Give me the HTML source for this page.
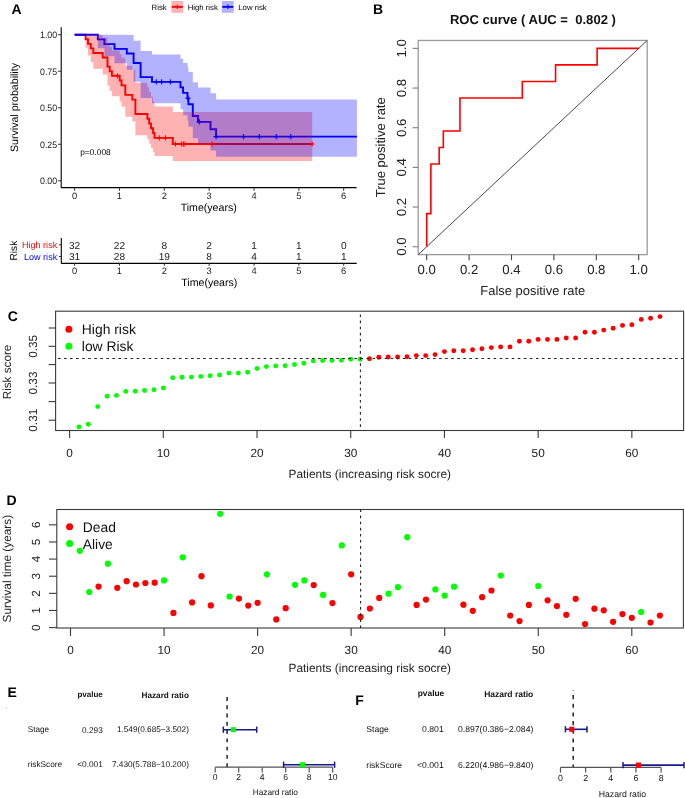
<!DOCTYPE html>
<html><head><meta charset="utf-8"><style>
html,body{margin:0;padding:0;background:#fff;}
body{width:685px;height:798px;overflow:hidden;}
svg{display:block;font-family:"Liberation Sans", sans-serif;filter:blur(0.3px);text-rendering:geometricPrecision;}
</style></head><body>
<svg width="685" height="798" viewBox="0 0 685 798">
<rect width="685" height="798" fill="#fff"/>
<path d="M74.6,34.70 H85.60 V39.27 H88.00 V43.83 H90.80 V48.40 H93.30 V52.96 H102.70 V57.53 H107.50 V66.66 H109.70 V71.23 H111.90 V75.79 H119.70 V80.56 H121.50 V85.34 H125.30 V94.88 H132.30 V99.66 H135.40 V113.98 H147.40 V118.75 H149.20 V123.52 H151.00 V128.30 H153.10 V133.07 H154.50 V137.84 H172.80 V143.98 H312.20" fill="none" stroke="#ff0000" stroke-width="1.9"/>
<path d="M74.6,34.70 H97.80 V39.41 H104.40 V44.13 H114.50 V48.84 H126.80 V53.55 H133.60 V62.98 H140.60 V77.12 H152.00 V81.83 H180.50 V87.33 H183.10 V92.83 H187.50 V98.32 H188.40 V104.22 H192.80 V116.00 H198.00 V121.89 H210.50 V129.25 H216.10 V136.62 H356.90" fill="none" stroke="#0000ff" stroke-width="1.9"/>
<path d="M74.6,34.70 H85.60 V34.70 H88.00 V34.70 H90.80 V34.70 H93.30 V35.08 H102.70 V37.71 H107.50 V43.69 H109.70 V46.96 H111.90 V50.38 H119.70 V53.99 H121.50 V57.75 H125.30 V65.65 H132.30 V69.77 H135.40 V82.78 H147.40 V87.33 H149.20 V91.98 H151.00 V96.73 H153.10 V101.59 H154.50 V106.57 H172.80 V112.01 H312.20 V161.09 H172.80 V155.94 H154.50 V152.04 H153.10 V148.01 H151.00 V143.86 H149.20 V139.61 H147.40 V135.24 H135.40 V121.50 H132.30 V116.70 H125.30 V106.74 H121.50 V101.57 H119.70 V96.25 H111.90 V91.09 H109.70 V85.78 H107.50 V74.60 H102.70 V68.65 H93.30 V62.36 H90.80 V55.55 H88.00 V47.80 H85.60 V34.70 Z" fill="#ff0000" fill-opacity="0.3"/>
<path d="M74.6,34.70 H97.80 V34.70 H104.40 V34.70 H114.50 V34.70 H126.80 V35.09 H133.60 V40.80 H140.60 V50.93 H152.00 V54.62 H180.50 V58.66 H183.10 V62.91 H187.50 V67.35 H188.40 V72.07 H192.80 V82.16 H198.00 V87.49 H210.50 V93.29 H216.10 V99.52 H356.90 V156.78 H216.10 V150.43 H210.50 V143.60 H198.00 V138.23 H192.80 V126.86 H188.40 V120.84 H187.50 V115.15 H183.10 V109.27 H180.50 V103.17 H152.00 V98.02 H140.60 V81.64 H133.60 V69.68 H126.80 V63.20 H114.50 V56.19 H104.40 V48.21 H97.80 V34.70 Z" fill="#0000ff" fill-opacity="0.3"/>
<path d="M114.90,75.79 H120.10 M117.50,73.19 V78.39" stroke="#ff0000" stroke-width="1.1"/>
<path d="M156.70,137.84 H161.90 M159.30,135.24 V140.44" stroke="#ff0000" stroke-width="1.1"/>
<path d="M162.80,137.84 H168.00 M165.40,135.24 V140.44" stroke="#ff0000" stroke-width="1.1"/>
<path d="M172.90,143.98 H178.10 M175.50,141.38 V146.58" stroke="#ff0000" stroke-width="1.1"/>
<path d="M179.00,143.98 H184.20 M181.60,141.38 V146.58" stroke="#ff0000" stroke-width="1.1"/>
<path d="M180.80,143.98 H186.00 M183.40,141.38 V146.58" stroke="#ff0000" stroke-width="1.1"/>
<path d="M182.50,143.98 H187.70 M185.10,141.38 V146.58" stroke="#ff0000" stroke-width="1.1"/>
<path d="M209.50,143.98 H214.70 M212.10,141.38 V146.58" stroke="#ff0000" stroke-width="1.1"/>
<path d="M309.60,143.98 H314.80 M312.20,141.38 V146.58" stroke="#ff0000" stroke-width="1.1"/>
<path d="M153.70,81.83 H158.90 M156.30,79.23 V84.43" stroke="#0000ff" stroke-width="1.1"/>
<path d="M159.00,81.83 H164.20 M161.60,79.23 V84.43" stroke="#0000ff" stroke-width="1.1"/>
<path d="M167.80,81.83 H173.00 M170.40,79.23 V84.43" stroke="#0000ff" stroke-width="1.1"/>
<path d="M185.40,98.32 H190.60 M188.00,95.72 V100.92" stroke="#0000ff" stroke-width="1.1"/>
<path d="M196.70,121.89 H201.90 M199.30,119.29 V124.49" stroke="#0000ff" stroke-width="1.1"/>
<path d="M213.50,136.62 H218.70 M216.10,134.02 V139.22" stroke="#0000ff" stroke-width="1.1"/>
<path d="M240.90,136.62 H246.10 M243.50,134.02 V139.22" stroke="#0000ff" stroke-width="1.1"/>
<path d="M256.70,136.62 H261.90 M259.30,134.02 V139.22" stroke="#0000ff" stroke-width="1.1"/>
<path d="M273.70,136.62 H278.90 M276.30,134.02 V139.22" stroke="#0000ff" stroke-width="1.1"/>
<path d="M288.20,136.62 H293.40 M290.80,134.02 V139.22" stroke="#0000ff" stroke-width="1.1"/>
<line x1="61.20" y1="27.20" x2="61.20" y2="188.00" stroke="#000" stroke-width="1.1"/>
<line x1="61.20" y1="187.60" x2="356.70" y2="187.60" stroke="#000" stroke-width="1.1"/>
<line x1="58.00" y1="180.80" x2="61.20" y2="180.80" stroke="#333" stroke-width="1"/>
<text x="57.20" y="184.10" font-size="9.3" text-anchor="end" font-weight="normal" fill="#222" transform="translate(57.20 184.10) rotate(0) scale(0.95 1.0) translate(-57.20 -184.10)">0.00</text>
<line x1="58.00" y1="144.28" x2="61.20" y2="144.28" stroke="#333" stroke-width="1"/>
<text x="57.20" y="147.58" font-size="9.3" text-anchor="end" font-weight="normal" fill="#222" transform="translate(57.20 147.58) rotate(0) scale(0.95 1.0) translate(-57.20 -147.58)">0.25</text>
<line x1="58.00" y1="107.75" x2="61.20" y2="107.75" stroke="#333" stroke-width="1"/>
<text x="57.20" y="111.05" font-size="9.3" text-anchor="end" font-weight="normal" fill="#222" transform="translate(57.20 111.05) rotate(0) scale(0.95 1.0) translate(-57.20 -111.05)">0.50</text>
<line x1="58.00" y1="71.23" x2="61.20" y2="71.23" stroke="#333" stroke-width="1"/>
<text x="57.20" y="74.53" font-size="9.3" text-anchor="end" font-weight="normal" fill="#222" transform="translate(57.20 74.53) rotate(0) scale(0.95 1.0) translate(-57.20 -74.53)">0.75</text>
<line x1="58.00" y1="34.70" x2="61.20" y2="34.70" stroke="#333" stroke-width="1"/>
<text x="57.20" y="38.00" font-size="9.3" text-anchor="end" font-weight="normal" fill="#222" transform="translate(57.20 38.00) rotate(0) scale(0.95 1.0) translate(-57.20 -38.00)">1.00</text>
<line x1="74.60" y1="187.60" x2="74.60" y2="190.80" stroke="#333" stroke-width="1"/>
<text x="74.60" y="198.80" font-size="9.3" text-anchor="middle" font-weight="normal" fill="#222">0</text>
<line x1="119.45" y1="187.60" x2="119.45" y2="190.80" stroke="#333" stroke-width="1"/>
<text x="119.45" y="198.80" font-size="9.3" text-anchor="middle" font-weight="normal" fill="#222">1</text>
<line x1="164.30" y1="187.60" x2="164.30" y2="190.80" stroke="#333" stroke-width="1"/>
<text x="164.30" y="198.80" font-size="9.3" text-anchor="middle" font-weight="normal" fill="#222">2</text>
<line x1="209.15" y1="187.60" x2="209.15" y2="190.80" stroke="#333" stroke-width="1"/>
<text x="209.15" y="198.80" font-size="9.3" text-anchor="middle" font-weight="normal" fill="#222">3</text>
<line x1="254.00" y1="187.60" x2="254.00" y2="190.80" stroke="#333" stroke-width="1"/>
<text x="254.00" y="198.80" font-size="9.3" text-anchor="middle" font-weight="normal" fill="#222">4</text>
<line x1="298.85" y1="187.60" x2="298.85" y2="190.80" stroke="#333" stroke-width="1"/>
<text x="298.85" y="198.80" font-size="9.3" text-anchor="middle" font-weight="normal" fill="#222">5</text>
<line x1="343.70" y1="187.60" x2="343.70" y2="190.80" stroke="#333" stroke-width="1"/>
<text x="343.70" y="198.80" font-size="9.3" text-anchor="middle" font-weight="normal" fill="#222">6</text>
<text x="208.70" y="211.00" font-size="10.6" text-anchor="middle" font-weight="normal" fill="#000">Time(years)</text>
<text x="17.80" y="107.50" font-size="10.6" text-anchor="middle" font-weight="normal" fill="#000" transform="rotate(-90 17.8 107.5)">Survival probability</text>
<text x="80.20" y="155.00" font-size="8.4" text-anchor="start" font-weight="normal" fill="#000">p=0.008</text>
<text x="11.50" y="14.10" font-size="14.0" text-anchor="start" font-weight="bold" fill="#000">A</text>
<text x="151.60" y="10.30" font-size="7.8" text-anchor="start" font-weight="normal" fill="#000">Risk</text>
<rect x="171.4" y="1" width="11.8" height="11.8" fill="#ff0000" fill-opacity="0.3"/>
<path d="M171.8,6.85 H182.8" stroke="#ff0000" stroke-width="1.9"/><path d="M177.3,4.6 V9.1" stroke="#ff0000" stroke-width="1.1"/>
<text x="187.70" y="10.30" font-size="7.75" text-anchor="start" font-weight="normal" fill="#000">High risk</text>
<rect x="221.9" y="1" width="11.8" height="11.8" fill="#0000ff" fill-opacity="0.3"/>
<path d="M222.3,6.85 H233.3" stroke="#0000ff" stroke-width="1.9"/><path d="M227.8,4.6 V9.1" stroke="#0000ff" stroke-width="1.1"/>
<text x="238.30" y="10.30" font-size="7.75" text-anchor="start" font-weight="normal" fill="#000">Low risk</text>
<line x1="61.30" y1="238.10" x2="61.30" y2="263.60" stroke="#000" stroke-width="1.1"/>
<line x1="61.30" y1="263.40" x2="356.70" y2="263.40" stroke="#000" stroke-width="1.1"/>
<line x1="59.00" y1="244.80" x2="61.30" y2="244.80" stroke="#333" stroke-width="1"/>
<line x1="59.00" y1="256.50" x2="61.30" y2="256.50" stroke="#333" stroke-width="1"/>
<text x="57.20" y="248.20" font-size="9.05" text-anchor="end" font-weight="normal" fill="#ff0000">High risk</text>
<text x="57.20" y="259.90" font-size="9.05" text-anchor="end" font-weight="normal" fill="#0000ff">Low risk</text>
<text x="17.30" y="250.60" font-size="10.1" text-anchor="middle" font-weight="normal" fill="#000" transform="rotate(-90 17.3 250.6)">Risk</text>
<text x="74.60" y="248.60" font-size="10.1" text-anchor="middle" font-weight="normal" fill="#222">32</text>
<text x="74.60" y="259.60" font-size="10.1" text-anchor="middle" font-weight="normal" fill="#222">31</text>
<line x1="74.60" y1="263.40" x2="74.60" y2="265.80" stroke="#333" stroke-width="1"/>
<text x="74.60" y="274.30" font-size="9.3" text-anchor="middle" font-weight="normal" fill="#222">0</text>
<text x="119.45" y="248.60" font-size="10.1" text-anchor="middle" font-weight="normal" fill="#222">22</text>
<text x="119.45" y="259.60" font-size="10.1" text-anchor="middle" font-weight="normal" fill="#222">28</text>
<line x1="119.45" y1="263.40" x2="119.45" y2="265.80" stroke="#333" stroke-width="1"/>
<text x="119.45" y="274.30" font-size="9.3" text-anchor="middle" font-weight="normal" fill="#222">1</text>
<text x="164.30" y="248.60" font-size="10.1" text-anchor="middle" font-weight="normal" fill="#222">8</text>
<text x="164.30" y="259.60" font-size="10.1" text-anchor="middle" font-weight="normal" fill="#222">19</text>
<line x1="164.30" y1="263.40" x2="164.30" y2="265.80" stroke="#333" stroke-width="1"/>
<text x="164.30" y="274.30" font-size="9.3" text-anchor="middle" font-weight="normal" fill="#222">2</text>
<text x="209.15" y="248.60" font-size="10.1" text-anchor="middle" font-weight="normal" fill="#222">2</text>
<text x="209.15" y="259.60" font-size="10.1" text-anchor="middle" font-weight="normal" fill="#222">8</text>
<line x1="209.15" y1="263.40" x2="209.15" y2="265.80" stroke="#333" stroke-width="1"/>
<text x="209.15" y="274.30" font-size="9.3" text-anchor="middle" font-weight="normal" fill="#222">3</text>
<text x="254.00" y="248.60" font-size="10.1" text-anchor="middle" font-weight="normal" fill="#222">1</text>
<text x="254.00" y="259.60" font-size="10.1" text-anchor="middle" font-weight="normal" fill="#222">4</text>
<line x1="254.00" y1="263.40" x2="254.00" y2="265.80" stroke="#333" stroke-width="1"/>
<text x="254.00" y="274.30" font-size="9.3" text-anchor="middle" font-weight="normal" fill="#222">4</text>
<text x="298.85" y="248.60" font-size="10.1" text-anchor="middle" font-weight="normal" fill="#222">1</text>
<text x="298.85" y="259.60" font-size="10.1" text-anchor="middle" font-weight="normal" fill="#222">1</text>
<line x1="298.85" y1="263.40" x2="298.85" y2="265.80" stroke="#333" stroke-width="1"/>
<text x="298.85" y="274.30" font-size="9.3" text-anchor="middle" font-weight="normal" fill="#222">5</text>
<text x="343.70" y="248.60" font-size="10.1" text-anchor="middle" font-weight="normal" fill="#222">0</text>
<text x="343.70" y="259.60" font-size="10.1" text-anchor="middle" font-weight="normal" fill="#222">1</text>
<line x1="343.70" y1="263.40" x2="343.70" y2="265.80" stroke="#333" stroke-width="1"/>
<text x="343.70" y="274.30" font-size="9.3" text-anchor="middle" font-weight="normal" fill="#222">6</text>
<text x="209.30" y="286.00" font-size="10.6" text-anchor="middle" font-weight="normal" fill="#000">Time(years)</text>
<rect x="418.22" y="40.47" width="228.96" height="214.16" fill="none" stroke="#9a9a9a" stroke-width="1.3"/>
<line x1="418.22" y1="254.63" x2="647.18" y2="40.47" stroke="#333" stroke-width="0.9"/>
<path d="M426.70,246.70 L426.70,213.65 L430.86,213.65 L430.86,164.07 L439.17,164.07 L439.17,147.55 L443.33,147.55 L443.33,131.02 L459.95,131.02 L459.95,97.97 L522.31,97.97 L522.31,81.45 L555.56,81.45 L555.56,64.92 L597.13,64.92 L597.13,48.40 L638.70,48.40" fill="none" stroke="#ff0000" stroke-width="1.6"/>
<line x1="426.70" y1="254.63" x2="426.70" y2="260.23" stroke="#444" stroke-width="1.1"/>
<text x="426.70" y="274.20" font-size="13.2" text-anchor="middle" font-weight="normal" fill="#222">0.0</text>
<line x1="412.62" y1="246.70" x2="418.22" y2="246.70" stroke="#888" stroke-width="1.2"/>
<text x="406.50" y="246.70" font-size="13.2" text-anchor="middle" font-weight="normal" fill="#222" transform="rotate(-90 406.5 246.7)">0.0</text>
<line x1="469.10" y1="254.63" x2="469.10" y2="260.23" stroke="#444" stroke-width="1.1"/>
<text x="469.10" y="274.20" font-size="13.2" text-anchor="middle" font-weight="normal" fill="#222">0.2</text>
<line x1="412.62" y1="207.04" x2="418.22" y2="207.04" stroke="#888" stroke-width="1.2"/>
<text x="406.50" y="207.04" font-size="13.2" text-anchor="middle" font-weight="normal" fill="#222" transform="rotate(-90 406.5 207.04)">0.2</text>
<line x1="511.50" y1="254.63" x2="511.50" y2="260.23" stroke="#444" stroke-width="1.1"/>
<text x="511.50" y="274.20" font-size="13.2" text-anchor="middle" font-weight="normal" fill="#222">0.4</text>
<line x1="412.62" y1="167.38" x2="418.22" y2="167.38" stroke="#888" stroke-width="1.2"/>
<text x="406.50" y="167.38" font-size="13.2" text-anchor="middle" font-weight="normal" fill="#222" transform="rotate(-90 406.5 167.38)">0.4</text>
<line x1="553.90" y1="254.63" x2="553.90" y2="260.23" stroke="#444" stroke-width="1.1"/>
<text x="553.90" y="274.20" font-size="13.2" text-anchor="middle" font-weight="normal" fill="#222">0.6</text>
<line x1="412.62" y1="127.72" x2="418.22" y2="127.72" stroke="#888" stroke-width="1.2"/>
<text x="406.50" y="127.72" font-size="13.2" text-anchor="middle" font-weight="normal" fill="#222" transform="rotate(-90 406.5 127.71999999999997)">0.6</text>
<line x1="596.30" y1="254.63" x2="596.30" y2="260.23" stroke="#444" stroke-width="1.1"/>
<text x="596.30" y="274.20" font-size="13.2" text-anchor="middle" font-weight="normal" fill="#222">0.8</text>
<line x1="412.62" y1="88.06" x2="418.22" y2="88.06" stroke="#888" stroke-width="1.2"/>
<text x="406.50" y="88.06" font-size="13.2" text-anchor="middle" font-weight="normal" fill="#222" transform="rotate(-90 406.5 88.05999999999997)">0.8</text>
<line x1="638.70" y1="254.63" x2="638.70" y2="260.23" stroke="#444" stroke-width="1.1"/>
<text x="638.70" y="274.20" font-size="13.2" text-anchor="middle" font-weight="normal" fill="#222">1.0</text>
<line x1="412.62" y1="48.40" x2="418.22" y2="48.40" stroke="#888" stroke-width="1.2"/>
<text x="406.50" y="48.40" font-size="13.2" text-anchor="middle" font-weight="normal" fill="#222" transform="rotate(-90 406.5 48.39999999999998)">1.0</text>
<text x="532.80" y="295.40" font-size="12.95" text-anchor="middle" font-weight="normal" fill="#222">False positive rate</text>
<text x="384.50" y="147.25" font-size="13.0" text-anchor="middle" font-weight="normal" fill="#222" transform="rotate(-90 384.5 147.25)">True positive rate</text>
<text x="532.90" y="24.40" font-size="13.05" text-anchor="middle" font-weight="bold" fill="#111">ROC curve ( AUC =&#160; 0.802 )</text>
<text x="373.10" y="14.30" font-size="14.0" text-anchor="start" font-weight="bold" fill="#000">B</text>
<rect x="55.6" y="311.2" width="628.00" height="119.30" fill="none" stroke="#3a3a3a" stroke-width="1.1"/>
<circle cx="78.97" cy="426.90" r="2.45" fill="#00ff00"/>
<circle cx="88.34" cy="424.30" r="2.45" fill="#00ff00"/>
<circle cx="97.71" cy="406.60" r="2.45" fill="#00ff00"/>
<circle cx="107.08" cy="396.30" r="2.45" fill="#00ff00"/>
<circle cx="116.45" cy="395.40" r="2.45" fill="#00ff00"/>
<circle cx="125.83" cy="391.40" r="2.45" fill="#00ff00"/>
<circle cx="135.20" cy="391.20" r="2.45" fill="#00ff00"/>
<circle cx="144.57" cy="390.50" r="2.45" fill="#00ff00"/>
<circle cx="153.94" cy="389.80" r="2.45" fill="#00ff00"/>
<circle cx="163.31" cy="387.90" r="2.45" fill="#00ff00"/>
<circle cx="172.68" cy="377.80" r="2.45" fill="#00ff00"/>
<circle cx="182.05" cy="377.30" r="2.45" fill="#00ff00"/>
<circle cx="191.42" cy="377.10" r="2.45" fill="#00ff00"/>
<circle cx="200.79" cy="376.40" r="2.45" fill="#00ff00"/>
<circle cx="210.16" cy="375.70" r="2.45" fill="#00ff00"/>
<circle cx="219.54" cy="375.00" r="2.45" fill="#00ff00"/>
<circle cx="228.91" cy="373.10" r="2.45" fill="#00ff00"/>
<circle cx="238.28" cy="373.10" r="2.45" fill="#00ff00"/>
<circle cx="247.65" cy="372.20" r="2.45" fill="#00ff00"/>
<circle cx="257.02" cy="368.50" r="2.45" fill="#00ff00"/>
<circle cx="266.39" cy="366.60" r="2.45" fill="#00ff00"/>
<circle cx="275.76" cy="365.90" r="2.45" fill="#00ff00"/>
<circle cx="285.13" cy="365.70" r="2.45" fill="#00ff00"/>
<circle cx="294.50" cy="364.50" r="2.45" fill="#00ff00"/>
<circle cx="303.88" cy="363.30" r="2.45" fill="#00ff00"/>
<circle cx="313.25" cy="360.90" r="2.45" fill="#00ff00"/>
<circle cx="322.62" cy="360.50" r="2.45" fill="#00ff00"/>
<circle cx="331.99" cy="360.50" r="2.45" fill="#00ff00"/>
<circle cx="341.36" cy="360.20" r="2.45" fill="#00ff00"/>
<circle cx="350.73" cy="359.30" r="2.45" fill="#00ff00"/>
<circle cx="360.10" cy="359.30" r="2.45" fill="#00ff00"/>
<circle cx="369.47" cy="358.80" r="2.45" fill="#ff0000"/>
<circle cx="378.84" cy="357.20" r="2.45" fill="#ff0000"/>
<circle cx="388.21" cy="357.00" r="2.45" fill="#ff0000"/>
<circle cx="397.59" cy="357.00" r="2.45" fill="#ff0000"/>
<circle cx="406.96" cy="356.70" r="2.45" fill="#ff0000"/>
<circle cx="416.33" cy="355.60" r="2.45" fill="#ff0000"/>
<circle cx="425.70" cy="355.60" r="2.45" fill="#ff0000"/>
<circle cx="435.07" cy="354.60" r="2.45" fill="#ff0000"/>
<circle cx="444.44" cy="351.60" r="2.45" fill="#ff0000"/>
<circle cx="453.81" cy="350.70" r="2.45" fill="#ff0000"/>
<circle cx="463.18" cy="350.70" r="2.45" fill="#ff0000"/>
<circle cx="472.55" cy="349.70" r="2.45" fill="#ff0000"/>
<circle cx="481.92" cy="348.80" r="2.45" fill="#ff0000"/>
<circle cx="491.29" cy="347.60" r="2.45" fill="#ff0000"/>
<circle cx="500.67" cy="346.90" r="2.45" fill="#ff0000"/>
<circle cx="510.04" cy="346.90" r="2.45" fill="#ff0000"/>
<circle cx="519.41" cy="341.20" r="2.45" fill="#ff0000"/>
<circle cx="528.78" cy="341.20" r="2.45" fill="#ff0000"/>
<circle cx="538.15" cy="339.40" r="2.45" fill="#ff0000"/>
<circle cx="547.52" cy="339.40" r="2.45" fill="#ff0000"/>
<circle cx="556.89" cy="339.40" r="2.45" fill="#ff0000"/>
<circle cx="566.26" cy="338.00" r="2.45" fill="#ff0000"/>
<circle cx="575.63" cy="338.00" r="2.45" fill="#ff0000"/>
<circle cx="585.00" cy="332.20" r="2.45" fill="#ff0000"/>
<circle cx="594.38" cy="332.20" r="2.45" fill="#ff0000"/>
<circle cx="603.75" cy="330.10" r="2.45" fill="#ff0000"/>
<circle cx="613.12" cy="328.20" r="2.45" fill="#ff0000"/>
<circle cx="622.49" cy="325.40" r="2.45" fill="#ff0000"/>
<circle cx="631.86" cy="324.70" r="2.45" fill="#ff0000"/>
<circle cx="641.23" cy="319.40" r="2.45" fill="#ff0000"/>
<circle cx="650.60" cy="318.20" r="2.45" fill="#ff0000"/>
<circle cx="659.97" cy="316.60" r="2.45" fill="#ff0000"/>
<line x1="55.60" y1="358.50" x2="683.60" y2="358.50" stroke="#222" stroke-width="1.1" stroke-dasharray="2.6,3.45" stroke-dashoffset="3.7"/>
<line x1="360.40" y1="311.20" x2="360.40" y2="430.50" stroke="#222" stroke-width="1.1" stroke-dasharray="2.6,3.5" stroke-dashoffset="2.8"/>
<line x1="48.60" y1="420.20" x2="55.60" y2="420.20" stroke="#3a3a3a" stroke-width="1.1"/>
<line x1="48.60" y1="401.60" x2="55.60" y2="401.60" stroke="#3a3a3a" stroke-width="1.1"/>
<line x1="48.60" y1="383.00" x2="55.60" y2="383.00" stroke="#3a3a3a" stroke-width="1.1"/>
<line x1="48.60" y1="364.60" x2="55.60" y2="364.60" stroke="#3a3a3a" stroke-width="1.1"/>
<line x1="48.60" y1="346.30" x2="55.60" y2="346.30" stroke="#3a3a3a" stroke-width="1.1"/>
<line x1="48.60" y1="328.00" x2="55.60" y2="328.00" stroke="#3a3a3a" stroke-width="1.1"/>
<text x="37.20" y="420.20" font-size="11.8" text-anchor="middle" font-weight="normal" fill="#222" transform="rotate(-90 37.2 420.2)">0.31</text>
<text x="37.20" y="383.00" font-size="11.8" text-anchor="middle" font-weight="normal" fill="#222" transform="rotate(-90 37.2 383.0)">0.33</text>
<text x="37.20" y="346.30" font-size="11.8" text-anchor="middle" font-weight="normal" fill="#222" transform="rotate(-90 37.2 346.3)">0.35</text>
<line x1="69.60" y1="430.50" x2="69.60" y2="438.00" stroke="#3a3a3a" stroke-width="1.1"/>
<text x="69.60" y="457.20" font-size="11.8" text-anchor="middle" font-weight="normal" fill="#222">0</text>
<line x1="163.31" y1="430.50" x2="163.31" y2="438.00" stroke="#3a3a3a" stroke-width="1.1"/>
<text x="163.31" y="457.20" font-size="11.8" text-anchor="middle" font-weight="normal" fill="#222">10</text>
<line x1="257.02" y1="430.50" x2="257.02" y2="438.00" stroke="#3a3a3a" stroke-width="1.1"/>
<text x="257.02" y="457.20" font-size="11.8" text-anchor="middle" font-weight="normal" fill="#222">20</text>
<line x1="350.73" y1="430.50" x2="350.73" y2="438.00" stroke="#3a3a3a" stroke-width="1.1"/>
<text x="350.73" y="457.20" font-size="11.8" text-anchor="middle" font-weight="normal" fill="#222">30</text>
<line x1="444.44" y1="430.50" x2="444.44" y2="438.00" stroke="#3a3a3a" stroke-width="1.1"/>
<text x="444.44" y="457.20" font-size="11.8" text-anchor="middle" font-weight="normal" fill="#222">40</text>
<line x1="538.15" y1="430.50" x2="538.15" y2="438.00" stroke="#3a3a3a" stroke-width="1.1"/>
<text x="538.15" y="457.20" font-size="11.8" text-anchor="middle" font-weight="normal" fill="#222">50</text>
<line x1="631.86" y1="430.50" x2="631.86" y2="438.00" stroke="#3a3a3a" stroke-width="1.1"/>
<text x="631.86" y="457.20" font-size="11.8" text-anchor="middle" font-weight="normal" fill="#222">60</text>
<text x="369.80" y="477.60" font-size="11.9" text-anchor="middle" font-weight="normal" fill="#222">Patients (increasing risk socre)</text>
<text x="10.80" y="372.00" font-size="11.7" text-anchor="middle" font-weight="normal" fill="#222" transform="rotate(-90 10.8 372.0)">Risk score</text>
<text x="7.80" y="320.60" font-size="14.0" text-anchor="start" font-weight="bold" fill="#000">C</text>
<circle cx="68.9" cy="329.2" r="3.5" fill="#ff0000"/>
<circle cx="68.9" cy="346.3" r="3.5" fill="#00ff00"/>
<text x="81.80" y="334.10" font-size="13.9" text-anchor="start" font-weight="normal" fill="#111">High risk</text>
<text x="81.80" y="351.20" font-size="13.9" text-anchor="start" font-weight="normal" fill="#111">low Risk</text>
<rect x="56.8" y="509.5" width="626.60" height="118.50" fill="none" stroke="#3a3a3a" stroke-width="1.1"/>
<circle cx="79.86" cy="550.80" r="3.1" fill="#00ff00"/>
<circle cx="89.21" cy="592.00" r="3.1" fill="#00ff00"/>
<circle cx="98.56" cy="586.60" r="3.1" fill="#ff0000"/>
<circle cx="107.92" cy="563.70" r="3.1" fill="#00ff00"/>
<circle cx="117.28" cy="587.80" r="3.1" fill="#ff0000"/>
<circle cx="126.63" cy="581.20" r="3.1" fill="#ff0000"/>
<circle cx="135.99" cy="584.50" r="3.1" fill="#ff0000"/>
<circle cx="145.34" cy="583.00" r="3.1" fill="#ff0000"/>
<circle cx="154.69" cy="582.70" r="3.1" fill="#ff0000"/>
<circle cx="164.05" cy="580.40" r="3.1" fill="#00ff00"/>
<circle cx="173.41" cy="612.90" r="3.1" fill="#ff0000"/>
<circle cx="182.76" cy="557.30" r="3.1" fill="#00ff00"/>
<circle cx="192.12" cy="602.40" r="3.1" fill="#ff0000"/>
<circle cx="201.47" cy="576.20" r="3.1" fill="#ff0000"/>
<circle cx="210.83" cy="605.40" r="3.1" fill="#ff0000"/>
<circle cx="220.18" cy="513.80" r="3.1" fill="#00ff00"/>
<circle cx="229.53" cy="596.50" r="3.1" fill="#00ff00"/>
<circle cx="238.89" cy="598.60" r="3.1" fill="#ff0000"/>
<circle cx="248.25" cy="605.60" r="3.1" fill="#ff0000"/>
<circle cx="257.60" cy="602.80" r="3.1" fill="#ff0000"/>
<circle cx="266.96" cy="574.30" r="3.1" fill="#00ff00"/>
<circle cx="276.31" cy="619.40" r="3.1" fill="#ff0000"/>
<circle cx="285.67" cy="608.20" r="3.1" fill="#ff0000"/>
<circle cx="295.02" cy="584.80" r="3.1" fill="#00ff00"/>
<circle cx="304.38" cy="580.40" r="3.1" fill="#00ff00"/>
<circle cx="313.73" cy="585.10" r="3.1" fill="#ff0000"/>
<circle cx="323.09" cy="594.90" r="3.1" fill="#00ff00"/>
<circle cx="332.44" cy="603.10" r="3.1" fill="#ff0000"/>
<circle cx="341.80" cy="545.40" r="3.1" fill="#00ff00"/>
<circle cx="351.15" cy="574.30" r="3.1" fill="#ff0000"/>
<circle cx="360.50" cy="616.90" r="3.1" fill="#ff0000"/>
<circle cx="369.86" cy="608.50" r="3.1" fill="#ff0000"/>
<circle cx="379.22" cy="597.90" r="3.1" fill="#ff0000"/>
<circle cx="388.57" cy="593.70" r="3.1" fill="#00ff00"/>
<circle cx="397.93" cy="587.20" r="3.1" fill="#00ff00"/>
<circle cx="407.28" cy="537.20" r="3.1" fill="#00ff00"/>
<circle cx="416.63" cy="604.90" r="3.1" fill="#ff0000"/>
<circle cx="425.99" cy="599.60" r="3.1" fill="#ff0000"/>
<circle cx="435.35" cy="589.40" r="3.1" fill="#00ff00"/>
<circle cx="444.70" cy="595.60" r="3.1" fill="#00ff00"/>
<circle cx="454.06" cy="586.70" r="3.1" fill="#00ff00"/>
<circle cx="463.41" cy="604.70" r="3.1" fill="#ff0000"/>
<circle cx="472.77" cy="610.80" r="3.1" fill="#ff0000"/>
<circle cx="482.12" cy="597.20" r="3.1" fill="#ff0000"/>
<circle cx="491.48" cy="590.50" r="3.1" fill="#ff0000"/>
<circle cx="500.83" cy="575.50" r="3.1" fill="#00ff00"/>
<circle cx="510.19" cy="615.50" r="3.1" fill="#ff0000"/>
<circle cx="519.54" cy="621.10" r="3.1" fill="#ff0000"/>
<circle cx="528.89" cy="604.90" r="3.1" fill="#ff0000"/>
<circle cx="538.25" cy="586.00" r="3.1" fill="#00ff00"/>
<circle cx="547.61" cy="600.30" r="3.1" fill="#ff0000"/>
<circle cx="556.96" cy="606.10" r="3.1" fill="#ff0000"/>
<circle cx="566.32" cy="614.80" r="3.1" fill="#ff0000"/>
<circle cx="575.67" cy="598.80" r="3.1" fill="#ff0000"/>
<circle cx="585.02" cy="624.10" r="3.1" fill="#ff0000"/>
<circle cx="594.38" cy="608.70" r="3.1" fill="#ff0000"/>
<circle cx="603.74" cy="610.30" r="3.1" fill="#ff0000"/>
<circle cx="613.09" cy="621.80" r="3.1" fill="#ff0000"/>
<circle cx="622.45" cy="614.10" r="3.1" fill="#ff0000"/>
<circle cx="631.80" cy="617.80" r="3.1" fill="#ff0000"/>
<circle cx="641.15" cy="612.00" r="3.1" fill="#00ff00"/>
<circle cx="650.51" cy="622.50" r="3.1" fill="#ff0000"/>
<circle cx="659.87" cy="615.50" r="3.1" fill="#ff0000"/>
<line x1="360.60" y1="509.50" x2="360.60" y2="628.00" stroke="#222" stroke-width="1.1" stroke-dasharray="2.6,3.5"/>
<line x1="49.00" y1="627.60" x2="56.80" y2="627.60" stroke="#3a3a3a" stroke-width="1.1"/>
<text x="40.40" y="627.60" font-size="11.8" text-anchor="middle" font-weight="normal" fill="#222" transform="rotate(-90 40.4 627.6)">0</text>
<line x1="49.00" y1="610.47" x2="56.80" y2="610.47" stroke="#3a3a3a" stroke-width="1.1"/>
<text x="40.40" y="610.47" font-size="11.8" text-anchor="middle" font-weight="normal" fill="#222" transform="rotate(-90 40.4 610.47)">1</text>
<line x1="49.00" y1="593.34" x2="56.80" y2="593.34" stroke="#3a3a3a" stroke-width="1.1"/>
<text x="40.40" y="593.34" font-size="11.8" text-anchor="middle" font-weight="normal" fill="#222" transform="rotate(-90 40.4 593.34)">2</text>
<line x1="49.00" y1="576.21" x2="56.80" y2="576.21" stroke="#3a3a3a" stroke-width="1.1"/>
<text x="40.40" y="576.21" font-size="11.8" text-anchor="middle" font-weight="normal" fill="#222" transform="rotate(-90 40.4 576.21)">3</text>
<line x1="49.00" y1="559.08" x2="56.80" y2="559.08" stroke="#3a3a3a" stroke-width="1.1"/>
<text x="40.40" y="559.08" font-size="11.8" text-anchor="middle" font-weight="normal" fill="#222" transform="rotate(-90 40.4 559.08)">4</text>
<line x1="49.00" y1="541.95" x2="56.80" y2="541.95" stroke="#3a3a3a" stroke-width="1.1"/>
<text x="40.40" y="541.95" font-size="11.8" text-anchor="middle" font-weight="normal" fill="#222" transform="rotate(-90 40.4 541.95)">5</text>
<line x1="49.00" y1="524.82" x2="56.80" y2="524.82" stroke="#3a3a3a" stroke-width="1.1"/>
<text x="40.40" y="524.82" font-size="11.8" text-anchor="middle" font-weight="normal" fill="#222" transform="rotate(-90 40.4 524.82)">6</text>
<line x1="70.50" y1="628.00" x2="70.50" y2="636.00" stroke="#3a3a3a" stroke-width="1.1"/>
<text x="70.50" y="654.20" font-size="11.8" text-anchor="middle" font-weight="normal" fill="#222">0</text>
<line x1="164.05" y1="628.00" x2="164.05" y2="636.00" stroke="#3a3a3a" stroke-width="1.1"/>
<text x="164.05" y="654.20" font-size="11.8" text-anchor="middle" font-weight="normal" fill="#222">10</text>
<line x1="257.60" y1="628.00" x2="257.60" y2="636.00" stroke="#3a3a3a" stroke-width="1.1"/>
<text x="257.60" y="654.20" font-size="11.8" text-anchor="middle" font-weight="normal" fill="#222">20</text>
<line x1="351.15" y1="628.00" x2="351.15" y2="636.00" stroke="#3a3a3a" stroke-width="1.1"/>
<text x="351.15" y="654.20" font-size="11.8" text-anchor="middle" font-weight="normal" fill="#222">30</text>
<line x1="444.70" y1="628.00" x2="444.70" y2="636.00" stroke="#3a3a3a" stroke-width="1.1"/>
<text x="444.70" y="654.20" font-size="11.8" text-anchor="middle" font-weight="normal" fill="#222">40</text>
<line x1="538.25" y1="628.00" x2="538.25" y2="636.00" stroke="#3a3a3a" stroke-width="1.1"/>
<text x="538.25" y="654.20" font-size="11.8" text-anchor="middle" font-weight="normal" fill="#222">50</text>
<line x1="631.80" y1="628.00" x2="631.80" y2="636.00" stroke="#3a3a3a" stroke-width="1.1"/>
<text x="631.80" y="654.20" font-size="11.8" text-anchor="middle" font-weight="normal" fill="#222">60</text>
<text x="369.80" y="672.40" font-size="11.9" text-anchor="middle" font-weight="normal" fill="#222">Patients (increasing risk socre)</text>
<text x="10.90" y="568.70" font-size="11.8" text-anchor="middle" font-weight="normal" fill="#222" transform="rotate(-90 10.9 568.7)">Survival time (years)</text>
<text x="6.50" y="505.40" font-size="14.0" text-anchor="start" font-weight="bold" fill="#000">D</text>
<circle cx="69.6" cy="526.7" r="3.5" fill="#ff0000"/>
<circle cx="69.6" cy="543.5" r="3.5" fill="#00ff00"/>
<text x="82.80" y="531.70" font-size="13.85" text-anchor="start" font-weight="normal" fill="#111">Dead</text>
<text x="82.80" y="548.50" font-size="13.85" text-anchor="start" font-weight="normal" fill="#111">Alive</text>
<text x="7.60" y="696.90" font-size="14.0" text-anchor="start" font-weight="bold" fill="#000">E</text>
<text x="102.80" y="697.40" font-size="8.0" text-anchor="end" font-weight="bold" fill="#111">pvalue</text>
<text x="188.90" y="698.00" font-size="8.2" text-anchor="end" font-weight="bold" fill="#111">Hazard ratio</text>
<circle cx="6.4" cy="708.3" r="0.5" fill="#999"/>
<text x="27.70" y="732.30" font-size="8.2" text-anchor="start" font-weight="normal" fill="#111">Stage</text>
<text x="102.80" y="732.60" font-size="8.3" text-anchor="end" font-weight="normal" fill="#111">0.293</text>
<text x="188.90" y="732.30" font-size="8.23" text-anchor="end" font-weight="normal" fill="#111">1.549(0.685−3.502)</text>
<text x="27.70" y="767.30" font-size="8.25" text-anchor="start" font-weight="normal" fill="#111">riskScore</text>
<text x="102.80" y="767.40" font-size="8.3" text-anchor="end" font-weight="normal" fill="#111">&lt;0.001</text>
<text x="188.90" y="767.30" font-size="8.28" text-anchor="end" font-weight="normal" fill="#111">7.430(5.788−10.200)</text>
<line x1="227.10" y1="692.50" x2="227.10" y2="767.20" stroke="#222" stroke-width="1.5" stroke-dasharray="3.9,4.38" stroke-dashoffset="3.78"/>
<line x1="215.20" y1="767.20" x2="332.70" y2="767.20" stroke="#555" stroke-width="1.2"/>
<line x1="215.20" y1="767.20" x2="215.20" y2="772.40" stroke="#555" stroke-width="1.2"/>
<text x="215.20" y="780.20" font-size="8.6" text-anchor="middle" font-weight="normal" fill="#111">0</text>
<line x1="238.70" y1="767.20" x2="238.70" y2="772.40" stroke="#555" stroke-width="1.2"/>
<text x="238.70" y="780.20" font-size="8.6" text-anchor="middle" font-weight="normal" fill="#111">2</text>
<line x1="262.20" y1="767.20" x2="262.20" y2="772.40" stroke="#555" stroke-width="1.2"/>
<text x="262.20" y="780.20" font-size="8.6" text-anchor="middle" font-weight="normal" fill="#111">4</text>
<line x1="285.70" y1="767.20" x2="285.70" y2="772.40" stroke="#555" stroke-width="1.2"/>
<text x="285.70" y="780.20" font-size="8.6" text-anchor="middle" font-weight="normal" fill="#111">6</text>
<line x1="309.20" y1="767.20" x2="309.20" y2="772.40" stroke="#555" stroke-width="1.2"/>
<text x="309.20" y="780.20" font-size="8.6" text-anchor="middle" font-weight="normal" fill="#111">8</text>
<line x1="332.70" y1="767.20" x2="332.70" y2="772.40" stroke="#555" stroke-width="1.2"/>
<text x="332.70" y="780.20" font-size="8.6" text-anchor="middle" font-weight="normal" fill="#111">10</text>
<text x="275.30" y="795.20" font-size="8.3" text-anchor="middle" font-weight="normal" fill="#111">Hazard ratio</text>
<line x1="223.30" y1="729.70" x2="256.70" y2="729.70" stroke="#1a1a8c" stroke-width="1.6"/>
<line x1="223.30" y1="726.60" x2="223.30" y2="732.80" stroke="#1a1a8c" stroke-width="1.5"/>
<line x1="256.70" y1="726.60" x2="256.70" y2="732.80" stroke="#1a1a8c" stroke-width="1.5"/>
<rect x="230.85" y="727.15" width="5.1" height="5.1" fill="#00ff00"/>
<line x1="283.60" y1="764.70" x2="334.60" y2="764.70" stroke="#1a1a8c" stroke-width="1.6"/>
<line x1="283.60" y1="761.60" x2="283.60" y2="767.80" stroke="#1a1a8c" stroke-width="1.5"/>
<line x1="334.60" y1="761.60" x2="334.60" y2="767.80" stroke="#1a1a8c" stroke-width="1.5"/>
<rect x="299.95" y="762.15" width="5.1" height="5.1" fill="#00ff00"/>
<text x="355.30" y="704.50" font-size="14.0" text-anchor="start" font-weight="bold" fill="#000">F</text>
<text x="444.30" y="696.00" font-size="8.4" text-anchor="end" font-weight="bold" fill="#111">pvalue</text>
<text x="533.30" y="696.60" font-size="8.5" text-anchor="end" font-weight="bold" fill="#111">Hazard ratio</text>
<text x="366.30" y="731.70" font-size="8.6" text-anchor="start" font-weight="normal" fill="#111">Stage</text>
<text x="443.70" y="732.30" font-size="8.65" text-anchor="end" font-weight="normal" fill="#111">0.801</text>
<text x="533.30" y="731.70" font-size="8.6" text-anchor="end" font-weight="normal" fill="#111">0.897(0.386−2.084)</text>
<text x="366.30" y="768.10" font-size="8.6" text-anchor="start" font-weight="normal" fill="#111">riskScore</text>
<text x="443.70" y="768.20" font-size="8.65" text-anchor="end" font-weight="normal" fill="#111">&lt;0.001</text>
<text x="533.30" y="768.10" font-size="8.6" text-anchor="end" font-weight="normal" fill="#111">6.220(4.986−9.840)</text>
<line x1="573.20" y1="690.00" x2="573.20" y2="767.40" stroke="#222" stroke-width="1.5" stroke-dasharray="4.1,4.56" stroke-dashoffset="3.56"/>
<line x1="560.50" y1="767.40" x2="661.10" y2="767.40" stroke="#555" stroke-width="1.2"/>
<line x1="560.50" y1="767.40" x2="560.50" y2="772.60" stroke="#555" stroke-width="1.2"/>
<text x="560.50" y="781.40" font-size="8.8" text-anchor="middle" font-weight="normal" fill="#111">0</text>
<line x1="585.65" y1="767.40" x2="585.65" y2="772.60" stroke="#555" stroke-width="1.2"/>
<text x="585.65" y="781.40" font-size="8.8" text-anchor="middle" font-weight="normal" fill="#111">2</text>
<line x1="610.80" y1="767.40" x2="610.80" y2="772.60" stroke="#555" stroke-width="1.2"/>
<text x="610.80" y="781.40" font-size="8.8" text-anchor="middle" font-weight="normal" fill="#111">4</text>
<line x1="635.95" y1="767.40" x2="635.95" y2="772.60" stroke="#555" stroke-width="1.2"/>
<text x="635.95" y="781.40" font-size="8.8" text-anchor="middle" font-weight="normal" fill="#111">6</text>
<line x1="661.10" y1="767.40" x2="661.10" y2="772.60" stroke="#555" stroke-width="1.2"/>
<text x="661.10" y="781.40" font-size="8.8" text-anchor="middle" font-weight="normal" fill="#111">8</text>
<text x="622.40" y="797.00" font-size="8.7" text-anchor="middle" font-weight="normal" fill="#111">Hazard ratio</text>
<line x1="565.40" y1="729.30" x2="587.00" y2="729.30" stroke="#1a1a8c" stroke-width="1.6"/>
<line x1="565.40" y1="726.20" x2="565.40" y2="732.40" stroke="#1a1a8c" stroke-width="1.5"/>
<line x1="587.00" y1="726.20" x2="587.00" y2="732.40" stroke="#1a1a8c" stroke-width="1.5"/>
<rect x="569.25" y="726.75" width="5.1" height="5.1" fill="#ff0000"/>
<line x1="623.00" y1="765.10" x2="684.00" y2="765.10" stroke="#1a1a8c" stroke-width="1.6"/>
<line x1="623.00" y1="762.00" x2="623.00" y2="768.20" stroke="#1a1a8c" stroke-width="1.5"/>
<line x1="684.00" y1="762.00" x2="684.00" y2="768.20" stroke="#1a1a8c" stroke-width="1.5"/>
<rect x="635.85" y="762.55" width="5.1" height="5.1" fill="#ff0000"/>
</svg>
</body></html>
